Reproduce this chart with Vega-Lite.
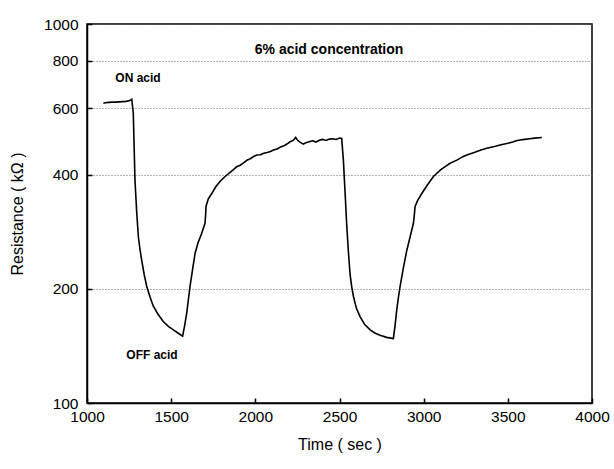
{
  "$schema": "https://vega.github.io/schema/vega-lite/v6.json",
  "width": 505,
  "height": 379,
  "autosize": "none",
  "padding": {"left": 87, "top": 24, "right": 22, "bottom": 66},
  "background": "white",
  "config": {
    "font": "Liberation Sans",
    "view": {"stroke": "black", "strokeWidth": 1.5},
    "axis": {"labelFont": "Liberation Sans", "titleFont": "Liberation Sans", "labelColor": "black", "titleColor": "black", "titleFontWeight": "normal", "domainColor": "black", "tickColor": "black"}
  },
  "datasets": {
    "curve": [
      {"t": 1097, "R": 618}, {"t": 1110, "R": 620}, {"t": 1130, "R": 621}, {"t": 1150, "R": 622},
      {"t": 1170, "R": 622}, {"t": 1190, "R": 623}, {"t": 1210, "R": 624}, {"t": 1230, "R": 625},
      {"t": 1250, "R": 627}, {"t": 1266, "R": 633}, {"t": 1275, "R": 581}, {"t": 1285, "R": 388},
      {"t": 1295, "R": 320}, {"t": 1305, "R": 275}, {"t": 1315, "R": 254}, {"t": 1325, "R": 238},
      {"t": 1340, "R": 218}, {"t": 1355, "R": 203}, {"t": 1375, "R": 190}, {"t": 1394, "R": 180},
      {"t": 1420, "R": 172}, {"t": 1453, "R": 164}, {"t": 1485, "R": 159}, {"t": 1513, "R": 156},
      {"t": 1540, "R": 153}, {"t": 1568, "R": 150}, {"t": 1580, "R": 160}, {"t": 1592, "R": 172},
      {"t": 1602, "R": 187}, {"t": 1612, "R": 203}, {"t": 1627, "R": 225}, {"t": 1642, "R": 248},
      {"t": 1660, "R": 265}, {"t": 1681, "R": 280}, {"t": 1701, "R": 298}, {"t": 1705, "R": 315},
      {"t": 1707, "R": 330}, {"t": 1720, "R": 345}, {"t": 1741, "R": 357}, {"t": 1765, "R": 372},
      {"t": 1790, "R": 384}, {"t": 1820, "R": 396}, {"t": 1850, "R": 406}, {"t": 1870, "R": 413},
      {"t": 1889, "R": 420}, {"t": 1910, "R": 424}, {"t": 1930, "R": 430}, {"t": 1950, "R": 437},
      {"t": 1970, "R": 441}, {"t": 1990, "R": 447}, {"t": 2008, "R": 451}, {"t": 2030, "R": 452},
      {"t": 2050, "R": 456}, {"t": 2070, "R": 458}, {"t": 2090, "R": 461}, {"t": 2107, "R": 465},
      {"t": 2130, "R": 468}, {"t": 2150, "R": 474}, {"t": 2170, "R": 477}, {"t": 2190, "R": 483},
      {"t": 2206, "R": 489}, {"t": 2225, "R": 493}, {"t": 2240, "R": 502}, {"t": 2250, "R": 494},
      {"t": 2265, "R": 488}, {"t": 2285, "R": 482}, {"t": 2300, "R": 486}, {"t": 2320, "R": 489},
      {"t": 2340, "R": 492}, {"t": 2360, "R": 488}, {"t": 2384, "R": 494}, {"t": 2400, "R": 496},
      {"t": 2420, "R": 493}, {"t": 2440, "R": 497}, {"t": 2460, "R": 498}, {"t": 2480, "R": 496},
      {"t": 2500, "R": 500}, {"t": 2513, "R": 499}, {"t": 2523, "R": 438}, {"t": 2533, "R": 360},
      {"t": 2543, "R": 295}, {"t": 2553, "R": 250}, {"t": 2563, "R": 218}, {"t": 2573, "R": 202},
      {"t": 2583, "R": 191}, {"t": 2600, "R": 178}, {"t": 2622, "R": 169}, {"t": 2650, "R": 161},
      {"t": 2682, "R": 156}, {"t": 2710, "R": 153}, {"t": 2741, "R": 151}, {"t": 2780, "R": 149},
      {"t": 2820, "R": 148}, {"t": 2830, "R": 160}, {"t": 2840, "R": 176}, {"t": 2850, "R": 190},
      {"t": 2860, "R": 203}, {"t": 2880, "R": 228}, {"t": 2900, "R": 253}, {"t": 2920, "R": 275},
      {"t": 2939, "R": 298}, {"t": 2945, "R": 315}, {"t": 2949, "R": 330}, {"t": 2965, "R": 343},
      {"t": 2989, "R": 357}, {"t": 3020, "R": 375}, {"t": 3058, "R": 396}, {"t": 3100, "R": 412},
      {"t": 3130, "R": 421}, {"t": 3157, "R": 429}, {"t": 3200, "R": 438}, {"t": 3230, "R": 446},
      {"t": 3256, "R": 451}, {"t": 3300, "R": 458}, {"t": 3340, "R": 465}, {"t": 3375, "R": 470},
      {"t": 3420, "R": 475}, {"t": 3460, "R": 480}, {"t": 3494, "R": 484}, {"t": 3530, "R": 488},
      {"t": 3550, "R": 492}, {"t": 3573, "R": 494}, {"t": 3600, "R": 496}, {"t": 3630, "R": 498},
      {"t": 3660, "R": 500}, {"t": 3702, "R": 502}
    ],
    "notes": [
      {"t": 2438, "R": 854, "label": "6% acid concentration", "size": 14},
      {"t": 1303, "R": 720, "label": "ON acid", "size": 12},
      {"t": 1386, "R": 134, "label": "OFF acid", "size": 12}
    ]
  },
  "resolve": {"axis": {"x": "independent", "y": "independent"}},
  "layer": [
    {
      "data": {"name": "curve"},
      "mark": {"type": "line", "color": "black", "strokeWidth": 1.6, "clip": true},
      "encoding": {
        "x": {
          "field": "t", "type": "quantitative",
          "scale": {"domain": [1000, 4000], "nice": false},
          "axis": {"orient": "bottom", "title": "Time ( sec )", "values": [1000, 1500, 2000, 2500, 3000, 3500, 4000], "format": "d",
                   "grid": false, "ticks": false, "labelPadding": 6, "labelFontSize": 15.5, "titleFontSize": 16,
                   "titlePadding": 12, "domainWidth": 1.5, "labelFlush": false}
        },
        "y": {
          "field": "R", "type": "quantitative",
          "scale": {"type": "log", "domain": [100, 1000], "nice": false},
          "axis": {"orient": "left", "title": "Resistance ( kΩ )", "values": [100, 200, 400, 600, 800, 1000], "format": "d",
                   "grid": true, "gridColor": "#666", "gridDash": [1, 2], "gridWidth": 1,
                   "ticks": false, "labelPadding": 9, "labelFontSize": 15.5, "titleFontSize": 16,
                   "titlePadding": 18, "domainWidth": 1.5, "labelFlush": false}
        },
        "order": {"field": "t"}
      }
    },
    {
      "data": {"name": "curve"},
      "mark": {"type": "point", "opacity": 0},
      "encoding": {
        "x": {
          "field": "t", "type": "quantitative",
          "axis": {"orient": "bottom", "offset": -5, "values": [1000, 1500, 2000, 2500, 3000, 3500, 4000], "title": null,
                   "labels": false, "domain": false, "grid": false, "ticks": true, "tickSize": 5, "tickWidth": 1.5}
        },
        "y": {
          "field": "R", "type": "quantitative",
          "axis": {"orient": "left", "offset": -5, "values": [100, 200, 400, 600, 800, 1000], "title": null,
                   "labels": false, "domain": false, "grid": false, "ticks": true, "tickSize": 5, "tickWidth": 1.5}
        }
      }
    },
    {
      "data": {"name": "notes"},
      "mark": {"type": "text", "fontWeight": "bold", "color": "black", "font": "Liberation Sans", "baseline": "middle", "align": "center"},
      "encoding": {
        "x": {"field": "t", "type": "quantitative", "axis": null},
        "y": {"field": "R", "type": "quantitative", "axis": null},
        "text": {"field": "label"},
        "size": {"field": "size", "type": "quantitative", "scale": null, "legend": null}
      }
    }
  ]
}
